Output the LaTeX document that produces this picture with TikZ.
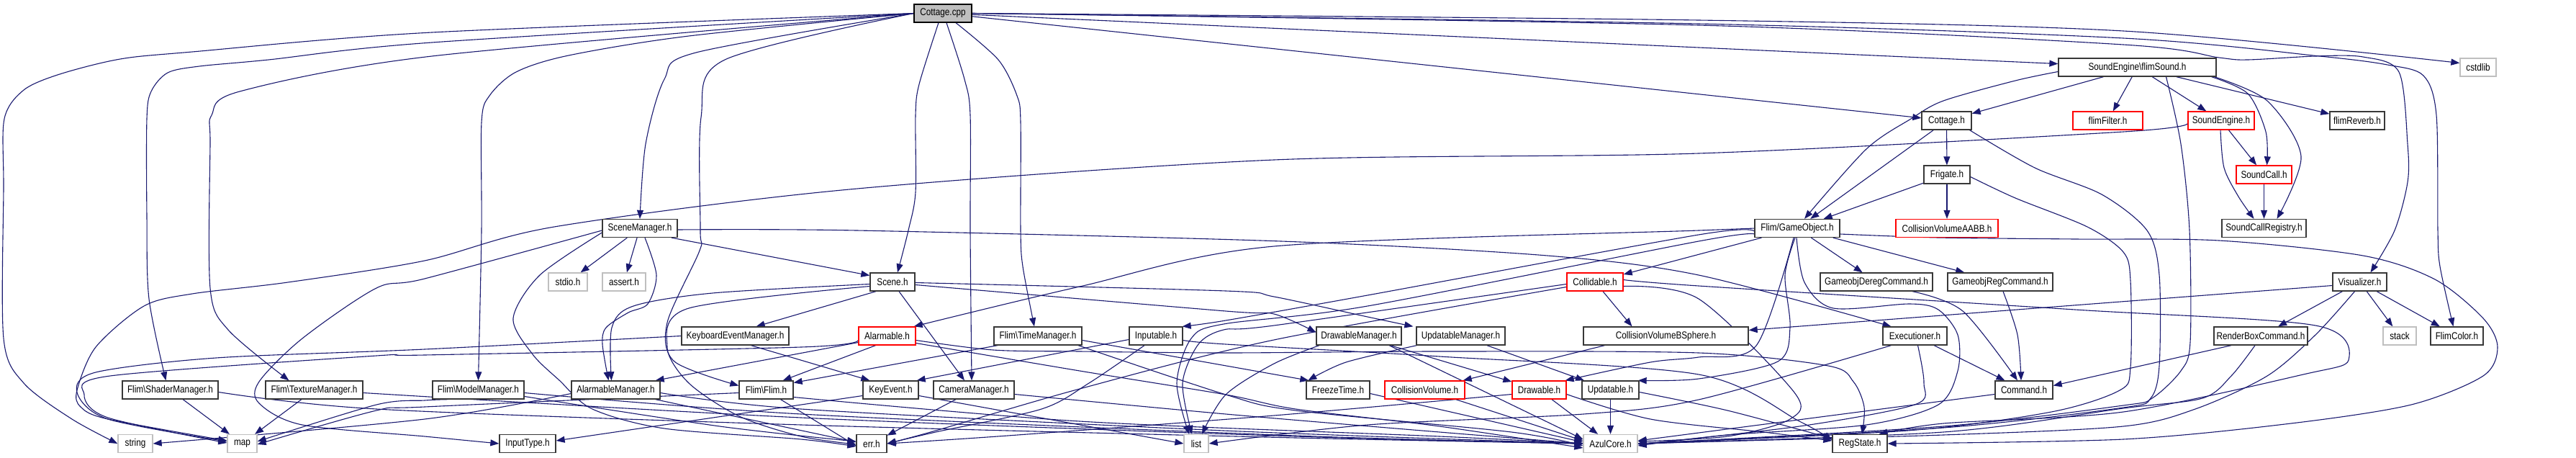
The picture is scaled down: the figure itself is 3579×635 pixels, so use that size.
\documentclass[tikz,border=0pt]{standalone}
\usepackage{fontspec}
\setmainfont[FakeStretch=0.84]{Liberation Sans}
\usetikzlibrary{arrows.meta}
\definecolor{edgec}{HTML}{191970}
\definecolor{sysc}{HTML}{BFBFBF}
\pgfdeclarelayer{bglayer}
\pgfdeclarelayer{edgelayer}
\pgfsetlayers{bglayer,edgelayer,main}
\newcommand\pth[1]{\draw[e] plot[smooth,tension=0.5] coordinates {#1};}
\begin{document}
\begin{tikzpicture}[x=1pt,y=1pt,
 box/.style={draw=black!78, line width=1.3pt, fill=white, minimum height=25pt, inner sep=0pt, font=\fontsize{14}{16}\selectfont},
 sys/.style={box, draw=sysc},
 redbox/.style={box, draw=red},
 root/.style={box, fill=sysc, draw=black},
 e/.style={draw=edgec, line width=1.1pt, -{Triangle[length=12pt,width=9pt]}},
 ]
\begin{pgfonlayer}{bglayer}
\fill[white] (0,0) rectangle (3579,-635);
\end{pgfonlayer}
\useasboundingbox (0,0) rectangle (3579,-635);
% rows 0-3
\node[root, minimum width=80pt] (cpp) at (1310,-18.5) {Cottage.cpp};
\node[box, minimum width=219pt] (flimsound) at (2969.5,-93.5) {SoundEngine\textbackslash flimSound.h};
\node[sys, minimum width=50pt] (cstdlib) at (3443,-93.5) {cstdlib};
\node[box, minimum width=69pt] (cottageh) at (2704.5,-167.5) {Cottage.h};
\node[redbox, minimum width=97pt] (flimfilter) at (2928.5,-167.5) {flimFilter.h};
\node[redbox, minimum width=92pt] (soundengine) at (3086,-167.5) {SoundEngine.h};
\node[box, minimum width=76pt] (flimreverb) at (3275,-167.5) {flimReverb.h};
\node[box, minimum width=64pt] (frigate) at (2705,-242.5) {Frigate.h};
\node[redbox, minimum width=77pt] (soundcall) at (3145.5,-242.5) {SoundCall.h};
% row 4
\node[box, minimum width=104pt] (scenemgr) at (889,-317) {SceneManager.h};
\node[box, minimum width=118pt] (gameobj) at (2497,-317) {Flim/GameObject.h};
\node[redbox, minimum width=142pt] (aabb) at (2705,-317) {CollisionVolumeAABB.h};
\node[box, minimum width=117pt] (soundcallreg) at (3145.5,-317) {SoundCallRegistry.h};
% row 5
\node[sys, minimum width=54pt] (stdio) at (789,-391.5) {stdio.h};
\node[sys, minimum width=60pt] (assert) at (867,-391.5) {assert.h};
\node[box, minimum width=62pt] (scene) at (1240,-391.5) {Scene.h};
\node[redbox, minimum width=78pt] (collidable) at (2216,-391.5) {Collidable.h};
\node[box, minimum width=156pt] (dereg) at (2607,-391.5) {GameobjDeregCommand.h};
\node[box, minimum width=146pt] (reg) at (2779,-391.5) {GameobjRegCommand.h};
\node[box, minimum width=75pt] (visualizer) at (3278.5,-391.5) {Visualizer.h};
% row 6
\node[box, minimum width=149pt] (keyboardmgr) at (1021.5,-466.5) {KeyboardEventManager.h};
\node[redbox, minimum width=79pt] (alarmable) at (1232.5,-466.5) {Alarmable.h};
\node[box, minimum width=122pt] (timemgr) at (1442,-466.5) {Flim\textbackslash TimeManager.h};
\node[box, minimum width=74pt] (inputable) at (1606,-466.5) {Inputable.h};
\node[box, minimum width=118pt] (drawablemgr) at (1888,-466.5) {DrawableManager.h};
\node[box, minimum width=123pt] (updatablemgr) at (2029.5,-466.5) {UpdatableManager.h};
\node[box, minimum width=229pt] (bsphere) at (2314.5,-466.5) {CollisionVolumeBSphere.h};
\node[box, minimum width=89pt] (executioner) at (2660.5,-466.5) {Executioner.h};
\node[box, minimum width=130pt] (renderbox) at (3141,-466.5) {RenderBoxCommand.h};
\node[sys, minimum width=46pt] (stack) at (3334,-466.5) {stack};
\node[box, minimum width=73pt] (flimcolor) at (3413.5,-466.5) {FlimColor.h};
% row 7
\node[box, minimum width=133pt] (shadermgr) at (236.5,-541.5) {Flim\textbackslash ShaderManager.h};
\node[box, minimum width=135pt] (texturemgr) at (436.5,-541.5) {Flim\textbackslash TextureManager.h};
\node[box, minimum width=127pt] (modelmgr) at (664.5,-541.5) {Flim\textbackslash ModelManager.h};
\node[box, minimum width=123pt] (alarmmgr) at (855.5,-541.5) {AlarmableManager.h};
\node[box, minimum width=75pt] (flim) at (1064.5,-541.5) {Flim\textbackslash Flim.h};
\node[box, minimum width=77pt] (keyevent) at (1237.5,-541.5) {KeyEvent.h};
\node[box, minimum width=112pt] (camera) at (1353,-541.5) {CameraManager.h};
\node[box, minimum width=88pt] (freezetime) at (1859,-541.5) {FreezeTime.h};
\node[redbox, minimum width=111pt] (collisionvolume) at (1979.5,-541.5) {CollisionVolume.h};
\node[redbox, minimum width=75pt] (drawable) at (2138.5,-541.5) {Drawable.h};
\node[box, minimum width=79pt] (updatable) at (2237.5,-541.5) {Updatable.h};
\node[box, minimum width=80pt] (command) at (2812,-541.5) {Command.h};
% row 8
\node[sys, minimum width=48pt] (string) at (188,-616) {string};
\node[sys, minimum width=41pt] (map) at (336.5,-616) {map};
\node[box, minimum width=78pt] (inputtype) at (733,-616) {InputType.h};
\node[box, minimum width=42pt] (err) at (1211,-616) {err.h};
\node[sys, minimum width=34pt] (list) at (1662,-616) {list};
\node[sys, minimum width=75pt] (azul) at (2237.5,-616) {AzulCore.h};
\node[box, minimum width=76pt] (regstate) at (2584,-616) {RegState.h};

\begin{pgfonlayer}{edgelayer}
% Cottage.cpp
\pth{(cpp.west) (600,-45) (267,-72) (167,-82) (83,-103) (33,-125) (6,-165) (5,-260) (5,-470) (33,-532) (100,-582) (string.west)}
\pth{(cpp.west) (600,-59) (373,-83) (277,-92) (233,-101) (210,-127) (204,-165) (204,-300) (207,-415) ([xshift=-6pt]shadermgr.north)}
\pth{(cpp.west) (600,-78) (333,-127) (294,-160) (292,-200) (292,-400) (317,-458) ([xshift=-35pt]texturemgr.north)}
\pth{(cpp.west) (957,-50) (790,-77) (717,-100) (680,-133) (669,-170) (669,-320) (modelmgr.north)}
\pth{(cpp.west) (967,-73) (923,-110) (897,-200) (scenemgr.north)}
\pth{(cpp.west) (1007,-83) (974,-163) (973,-320) (972,-348) (927,-448) (937,-502) ([yshift=6pt]flim.west)}
\pth{([xshift=-6pt]cpp.south) (1277,-117) (1272,-160) (1272,-267) (1262,-320) ([xshift=7pt]scene.north)}
\pth{([xshift=5pt]cpp.south) (1340,-110) (1348,-160) (1348,-320) ([xshift=-3pt]camera.north)}
\pth{([xshift=18pt]cpp.south) (1387,-83) (1413,-133) (1418,-170) (1418,-320) (1421,-370) ([xshift=-5pt]timemgr.north)}
\draw[e] (cpp) -- (cottageh);
\draw[e] (cpp) -- (flimsound);
\pth{(cpp.east) (2360,-28) (2950,-43) ([yshift=6pt]cstdlib.west)}
\pth{(cpp.east) (2360,-33) (2950,-53) (3223,-78) (3317,-90) (3367,-105) (3385,-160) (3387,-320) (3390,-370) ([xshift=-5pt]flimcolor.north)}
\pth{(cpp.east) (2360,-35) (2950,-62) (3083,-80) (3123,-83) (3217,-78) (3283,-79) (3333,-100) (3345,-200) (3345,-253) (3327,-320) ([xshift=15pt]visualizer.north)}
% flimSound
\draw[e] (flimsound) -- (cottageh);
\pth{([yshift=-6pt]flimsound.west) (2800,-112) (2700,-140) (2655,-165) (2593,-207) ([xshift=10pt]gameobj.north)}
\draw[e] (flimsound) -- (flimfilter);
\draw[e] (flimsound) -- (soundengine);
\draw[e] (flimsound) -- (flimreverb);
\pth{([xshift=103pt]flimsound.south) (3123,-130) (3148,-183) ([xshift=4pt]soundcall.north)}
\pth{([xshift=107pt]flimsound.south) (3150,-140) (3197,-217) ([xshift=18pt]soundcallreg.north)}
\pth{([xshift=40pt]flimsound.south) (3030,-200) (3042,-320) (3043,-475) (3030,-515) (2990,-553) (2950,-563) (2700,-592) (azul.east)}
% SoundEngine
\draw[e] (soundengine) -- (soundcall);
\pth{([xshift=-1pt]soundengine.south) (3090,-233) (3110,-273) ([xshift=-14pt]soundcallreg.north)}
\pth{([yshift=-4pt]soundengine.west) (2950,-183) (2360,-213) (1770,-222) (1180,-263) (770,-315) (590,-362) (400,-392) (267,-408) (200,-425) (133,-482) (107,-542) (112,-565) (150,-582) ([yshift=4pt]map.west)}
\draw[e] (soundcall) -- (soundcallreg);
% Cottage.h, Frigate.h
\draw[e] (cottageh) -- (frigate);
\draw[e] (cottageh) -- (gameobj);
\pth{([xshift=32pt]cottageh.south) (2827,-233) (2920,-270) (2983,-320) (3000,-382) (3000,-508) (2988,-553) (2950,-566) (2700,-594) (azul.east)}
\draw[e] (frigate) -- (gameobj);
\draw[e] (frigate) -- (aabb);
\pth{([yshift=-3pt]frigate.east) (2800,-275) (2900,-315) (2950,-350) (2960,-390) (2960,-510) (2945,-542) (2850,-572) (2650,-598) (azul.east)}
% GameObject
\draw[e] (gameobj) -- (dereg);
\draw[e] (gameobj) -- (reg);
\draw[e] (gameobj) -- (collidable);
\pth{([yshift=-8pt]gameobj.east) (2693,-330) (2883,-332) (3083,-334) (3283,-355) (3383,-388) (3450,-442) (3470,-482) (3450,-522) (3350,-562) (3183,-588) (2950,-610) (regstate.east)}
\pth{(gameobj.west) (2360,-320) (1770,-342) (1500,-398) ([xshift=-3pt]alarmable.north east)}
\pth{([xshift=-5pt]gameobj.south) (2440,-480) (2360,-496) (2293,-503) ([xshift=-2pt]drawable.north east)}
\pth{([xshift=-3pt]gameobj.south) (2480,-382) (2487,-455) (2470,-502) (2360,-526) ([xshift=-2pt]updatable.north east)}
\pth{([yshift=-4pt]gameobj.west) (2360,-326) (1900,-410) (1703,-445) ([xshift=-1pt]inputable.north east)}
\pth{([yshift=-8pt]gameobj.west) (2360,-335) (1900,-425) (1700,-450) (1655,-470) (1635,-532) ([xshift=-10pt]list.north)}
\pth{([xshift=-1pt]gameobj.south) (2507,-392) (2547,-428) (2653,-422) (2693,-430) (2720,-465) (2720,-515) (2693,-562) (2593,-590) (2400,-604) ([yshift=-3pt]azul.east)}
% Collidable
\draw[e] ([xshift=11pt]collidable.south) -- ([xshift=-47pt]bsphere.north);
\pth{([yshift=-3pt]collidable.west) (1770,-452) (1700,-458) (1665,-478) (1643,-532) ([xshift=-6pt]list.north)}
\pth{([yshift=-7pt]collidable.west) (1770,-472) (1500,-540) (1300,-598) (err.east)}
\pth{([yshift=-6pt]collidable.east) (2360,-415) (2493,-545) (2487,-582) (2400,-606) ([yshift=3pt]azul.east)}
\pth{([yshift=3pt]collidable.east) (2360,-397) (2883,-430) (3217,-452) (3263,-500) (3200,-520) (2950,-572) (2700,-588) ([xshift=-12pt]regstate.north east)}
% BSphere, Visualizer, RenderBox
\draw[e] ([xshift=-85pt]bsphere.south) -- ([xshift=-3pt]collisionvolume.north east);
\draw[e] (visualizer) -- (renderbox);
\draw[e] (visualizer) -- (stack);
\draw[e] (visualizer) -- (flimcolor);
\draw[e] ([yshift=-5pt]visualizer.west) -- ([yshift=8pt]bsphere.east);
\pth{([xshift=-7pt]visualizer.south) (3217,-465) (3150,-522) (3050,-568) (2950,-592) (2700,-604) (azul.east)}
\draw[e] ([xshift=-41pt]renderbox.south) -- ([yshift=6pt]command.east);
\pth{([xshift=-8pt]renderbox.south) (3100,-522) (3060,-553) (2950,-567) (2700,-600) (azul.east)}
% Executioner, Command
\draw[e] (executioner) -- (command);
\pth{([xshift=-33pt]executioner.south) (2360,-555) (2200,-575) (1900,-590) (list.east)}
\pth{([xshift=4pt]executioner.south) (2673,-532) (2660,-562) (2500,-592) ([yshift=-1pt]azul.east)}
\draw[e] ([yshift=-6pt]command.west) -- ([yshift=4pt]azul.east);
\pth{([xshift=50pt]dereg.south) (2727,-432) ([xshift=-9pt]command.north)}
\pth{([xshift=4pt]reg.south) (2803,-465) ([xshift=-4pt]command.north)}
% Drawable/Updatable managers
\draw[e] (drawablemgr) -- (drawable);
\pth{([xshift=-55pt]drawablemgr.south) (1770,-505) (1703,-548) ([xshift=8pt]list.north)}
\draw[e] ([xshift=42pt]drawablemgr.south) -- ([yshift=6pt]azul.west);
\draw[e] (updatablemgr) -- (updatable);
\pth{([xshift=-61pt]updatablemgr.south) (1870,-503) ([xshift=3pt]freezetime.north west)}
\draw[e] (drawable) -- (azul);
\pth{([yshift=-6pt]drawable.east) (2293,-582) (2450,-600) ([yshift=4pt]regstate.west)}
\pth{([yshift=-6pt]drawable.west) (1770,-577) (1400,-605) (err.east)}
\draw[e] (updatable) -- (azul);
\pth{([yshift=-3pt]updatable.east) (2400,-570) ([yshift=7pt]regstate.west)}
\draw[e] ([xshift=43pt]collisionvolume.south) -- ([yshift=4pt]azul.west);
\draw[e] ([yshift=-5pt]freezetime.east) -- ([yshift=2pt]azul.west);
% Inputable
\draw[e] ([yshift=-5pt]inputable.west) -- ([xshift=-3pt]keyevent.north east);
\pth{([xshift=-16pt]inputable.south) (1513,-532) (1447,-568) (1300,-600) (err.east)}
\pth{([yshift=-6pt]inputable.east) (1703,-478) (2000,-495) (2360,-520) (2500,-585) ([yshift=5pt]regstate.west)}
% KeyEvent, Camera, TimeManager
\draw[e] ([yshift=-8pt]keyevent.west) -- ([yshift=4pt]inputtype.east);
\draw[e] ([yshift=-8pt]keyevent.east) -- (list.west);
\draw[e] (camera) -- (err);
\pth{([yshift=-6pt]camera.east) (1703,-575) (2000,-600) (azul.west)}
\draw[e] ([xshift=-56pt]timemgr.south) -- ([yshift=10pt]flim.east);
\pth{([xshift=56pt]timemgr.south) (1703,-548) (1800,-570) (2100,-600) ([yshift=-3pt]azul.west)}
\draw[e] ([yshift=-6pt]timemgr.east) -- ([xshift=4pt]freezetime.north west);
% Alarmable
\draw[e] ([yshift=-9pt]alarmable.west) -- ([xshift=-7pt]alarmmgr.north east);
\draw[e] ([xshift=-16pt]alarmable.south) -- ([xshift=-15pt]flim.north east);
\pth{([yshift=-6pt]alarmable.west) (1113,-482) (590,-493) (523,-494) (153,-522) (117,-548) (150,-580) ([yshift=1pt]map.west)}
\pth{([yshift=-6pt]alarmable.east) (1380,-486) (1500,-488) (1703,-490) (2000,-488) (2360,-490) (2540,-508) (2575,-530) (2590,-565) ([xshift=3pt]regstate.north)}
\pth{([yshift=-10pt]alarmable.east) (1500,-515) (1703,-548) (1800,-568) (2000,-592) ([yshift=-6pt]azul.west)}
% AlarmableManager and left managers
\pth{([yshift=-5pt]alarmmgr.west) (590,-582) (string.east)}
\pth{([yshift=-4pt]alarmmgr.east) (1113,-568) (1700,-598) (azul.west)}
\draw[e] ([xshift=-7pt]alarmmgr.south east) -- ([yshift=2pt]err.west);
\pth{([xshift=-42pt]modelmgr.south) (590,-556) (523,-562) ([yshift=3pt]map.east)}
\pth{([yshift=-4pt]modelmgr.east) (1113,-575) (1800,-605) (azul.west)}
\pth{([yshift=-9pt]modelmgr.east) (1000,-592) ([yshift=3pt]err.west)}
\draw[e] (shadermgr) -- (map);
\draw[e] (texturemgr) -- (map);
\pth{([yshift=-3pt]shadermgr.east) (523,-568) (1113,-590) (1800,-608) (azul.west)}
\pth{([yshift=-4pt]texturemgr.east) (1113,-580) (1800,-606) (azul.west)}
\pth{([yshift=-4pt]flim.west) (590,-565) (523,-570) ([yshift=-1pt]map.east)}
\pth{([yshift=-10pt]flim.east) (1500,-585) (2000,-606) (azul.west)}
\draw[e] ([xshift=20pt]flim.south) -- ([yshift=-3pt]err.west);
% SceneManager
\draw[e] (scenemgr) -- (stdio);
\draw[e] (scenemgr) -- (assert);
\draw[e] ([xshift=44pt]scenemgr.south) -- ([yshift=9pt]scene.west);
\pth{([xshift=7pt]scenemgr.south) (912,-382) (900,-422) (873,-434) (842,-455) (837,-478) ([xshift=-10pt]alarmmgr.north)}
\pth{([yshift=-6pt]scenemgr.west) (750,-382) (713,-442) (740,-492) (777,-528) (823,-568) (923,-595) (1113,-610) ([yshift=-4pt]err.west)}
\pth{([yshift=-3pt]scenemgr.west) (590,-387) (523,-400) (420,-470) (360,-530) (360,-560) (420,-590) (590,-606) (inputtype.west)}
\pth{([yshift=-2pt]scenemgr.east) (1190,-320) (1780,-335) (2150,-355) (2360,-382) ([xshift=-33pt]executioner.north)}
% Scene
\draw[e] ([xshift=-23pt]scene.south) -- ([xshift=-46pt]keyboardmgr.north east);
\draw[e] ([xshift=9pt]scene.south) -- ([xshift=-13pt]camera.north);
\pth{([yshift=-3pt]scene.west) (990,-407) (880,-425) (850,-455) ([xshift=-6pt]alarmmgr.north)}
\pth{([yshift=-6pt]scene.west) (957,-428) (927,-482) (957,-532) (1027,-578) (1113,-606) ([yshift=-1pt]err.west)}
\pth{([yshift=-4pt]scene.east) (1703,-432) (1770,-436) ([yshift=5pt]drawablemgr.west)}
\pth{([yshift=-1pt]scene.east) (1703,-404) (1770,-412) (1900,-440) ([xshift=-4pt]updatablemgr.north west)}
% KeyboardEventManager
\draw[e] ([xshift=22pt]keyboardmgr.south) -- ([xshift=10pt]keyevent.north west);
\pth{(keyboardmgr.west) (590,-485) (300,-497) (133,-517) (107,-545) (150,-582) ([yshift=3pt]map.west)}
\end{pgfonlayer}
\end{tikzpicture}
\end{document}
